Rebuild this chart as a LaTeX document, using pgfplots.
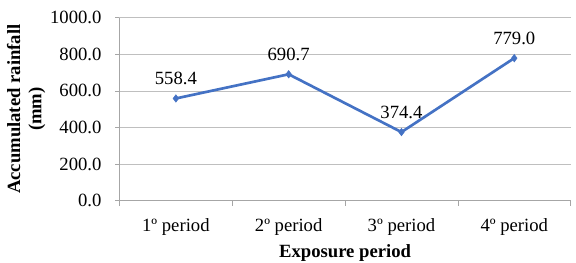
\documentclass[border=0pt]{standalone}
\usepackage{pgfplots}
\pgfplotsset{compat=1.18}
\usepackage{fontspec}
\setmainfont{Liberation Serif}
\definecolor{lineblue}{HTML}{4472C4}
\definecolor{gridgray}{HTML}{BFBFBF}
\definecolor{axgray}{HTML}{A6A6A6}
\begin{document}
\begin{tikzpicture}
\useasboundingbox (0,0) rectangle (432pt,196.5pt);
\begin{axis}[
  at={(89.6pt,46.1pt)}, anchor=south west,
  scale only axis, width=338.4pt, height=137.1pt,
  xmin=0.5, xmax=4.5, ymin=0, ymax=1000,
  xtick={1,2,3,4},
  xticklabels={1º period,2º period,3º period,4º period},
  minor xtick={0.5,1.5,2.5,3.5,4.5},
  major x tick style={draw=none},
  minor x tick style={axgray, thin},
  minor tick length=4pt,
  ytick={0,200,400,600,800,1000},
  major tick length=3pt,
  tick align=outside,
  ytick style={axgray, thin},
  ymajorgrids, grid style={gridgray, thin},
  axis lines*=left,
  axis line style={-, axgray, thin},
  /pgf/number format/assume math mode=true,
  /pgf/number format/.cd, fixed, fixed zerofill, precision=1, 1000 sep={}, /pgfplots/.cd,
  tick label style={font=\fontsize{14}{16}\selectfont, text=black},
  yticklabel style={anchor=east, xshift=-7pt},
  xticklabel style={anchor=center, yshift=-16.5pt},
  xlabel={Exposure period},
  ylabel={Accumulated rainfall\\(mm)},
  xlabel style={at={(axis description cs:0.5,0)}, anchor=center, yshift=-39pt, font=\fontsize{14}{16}\selectfont\bfseries},
  ylabel style={at={(axis description cs:0,0.5)}, anchor=center, rotate=0, yshift=70pt, align=center, font=\fontsize{14}{16}\selectfont\bfseries},
  nodes near coords,
  nodes near coords style={anchor=base, inner sep=0pt, yshift=10.5pt, font=\fontsize{14}{16}\selectfont, text=black,
    /pgf/number format/.cd, fixed, fixed zerofill, precision=1, 1000 sep={}},
  clip=false,
]
\addplot[lineblue, line width=2pt, mark=diamond*, mark size=2.8pt, mark options={fill=lineblue, draw=lineblue, line width=0.4pt}]
  coordinates {(1,558.4) (2,690.7) (3,374.4) (4,779.0)};
\end{axis}
\end{tikzpicture}
\end{document}
